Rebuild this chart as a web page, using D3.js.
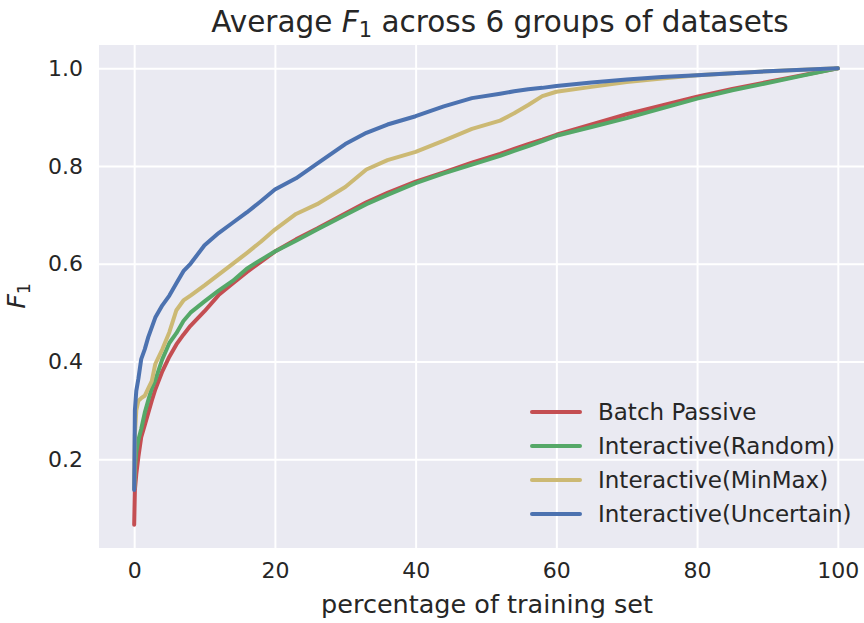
<!DOCTYPE html>
<html>
<head>
<meta charset="utf-8">
<script src="https://cdn.jsdelivr.net/npm/d3@7"></script>
<style>
  body { margin: 0; background: #fff; }
  svg { display: block; font-family: "DejaVu Sans", sans-serif; }
</style>
</head>
<body>
<svg></svg>
<script>
const pct = [0, 0.1, 0.3, 0.6, 1, 1.5, 2, 2.5, 3, 4, 5, 6, 7, 8, 10, 12, 14, 16, 18, 20,
  23, 26, 30, 33, 36, 40, 44, 48, 52, 54, 56, 58, 60, 65, 70, 75, 80, 85, 90, 95, 100];

const batchPassive = [0.066, 0.137, 0.17, 0.205, 0.245, 0.27, 0.295, 0.32, 0.343, 0.38, 0.41, 0.435,
  0.455, 0.473, 0.503, 0.536, 0.56, 0.583, 0.604, 0.625, 0.65, 0.672, 0.703, 0.726, 0.745, 0.768,
  0.787, 0.807, 0.825, 0.835, 0.845, 0.854, 0.864, 0.885, 0.906, 0.924, 0.942, 0.958, 0.972, 0.986, 1.0];

const interRandom = [0.14, 0.18, 0.215, 0.24, 0.262, 0.295, 0.321, 0.345, 0.362, 0.405, 0.438, 0.458,
  0.483, 0.50, 0.523, 0.545, 0.565, 0.59, 0.608, 0.625, 0.647, 0.67, 0.70, 0.722, 0.741, 0.765,
  0.785, 0.803, 0.821, 0.831, 0.841, 0.851, 0.862, 0.88, 0.898, 0.918, 0.938, 0.955, 0.97, 0.985, 1.0];

const interMinMax = [0.14, 0.25, 0.30, 0.32, 0.325, 0.33, 0.345, 0.36, 0.395, 0.425, 0.46, 0.505,
  0.525, 0.535, 0.556, 0.578, 0.60, 0.622, 0.645, 0.67, 0.702, 0.722, 0.757, 0.793, 0.812, 0.829,
  0.852, 0.876, 0.893, 0.908, 0.925, 0.943, 0.952, 0.962, 0.972, 0.979, 0.986, 0.99, 0.994, 0.997, 1.0];

const interUncertain = [0.137, 0.30, 0.34, 0.365, 0.405, 0.425, 0.45, 0.47, 0.49, 0.515, 0.535, 0.56,
  0.585, 0.60, 0.638, 0.663, 0.684, 0.705, 0.728, 0.752, 0.775, 0.805, 0.845, 0.868, 0.885, 0.902,
  0.922, 0.939, 0.948, 0.953, 0.957, 0.96, 0.964, 0.971, 0.977, 0.982, 0.986, 0.99, 0.994, 0.997, 1.0];

const seriesNames = ["Batch Passive", "Interactive(Random)", "Interactive(MinMax)", "Interactive(Uncertain)"];
const seriesValues = [batchPassive, interRandom, interMinMax, interUncertain];
const colors = ["#C44E52", "#55A868", "#CCB974", "#4C72B0"];

const xTicks = [0, 20, 40, 60, 80, 100];
const yTicks = [0.2, 0.4, 0.6, 0.8, 1.0];

const width = 864, height = 623;
const margin = {left: 99, top: 45, right: 873, bottom: 548};

const svg = d3.select("svg")
  .attr("width", width)
  .attr("height", height);

const x = d3.scaleLinear().domain([-5, 105]).range([margin.left, margin.right]);
const y = d3.scaleLinear().domain([0.0185, 1.0477]).range([margin.bottom, margin.top]);

// background panel
svg.append("rect")
  .attr("x", margin.left)
  .attr("y", margin.top)
  .attr("width", margin.right - margin.left)
  .attr("height", margin.bottom - margin.top)
  .attr("fill", "#EAEAF2");

svg.append("clipPath").attr("id", "plot")
  .append("rect")
  .attr("x", margin.left)
  .attr("y", margin.top)
  .attr("width", margin.right - margin.left)
  .attr("height", margin.bottom - margin.top);

// grid via axes
const xAxis = svg.append("g")
  .attr("transform", `translate(0,${margin.bottom})`)
  .call(d3.axisBottom(x).tickValues(xTicks).tickSize(-(margin.bottom - margin.top)).tickPadding(14));

const yAxis = svg.append("g")
  .attr("transform", `translate(${margin.left},0)`)
  .call(d3.axisLeft(y).tickValues(yTicks).tickFormat(d3.format(".1f"))
    .tickSize(-(margin.right - margin.left)).tickPadding(16));

[xAxis, yAxis].forEach(g => {
  g.select(".domain").remove();
  g.selectAll(".tick line").attr("stroke", "#fff").attr("stroke-width", 2);
  g.selectAll(".tick text")
    .attr("fill", "#262626")
    .style("font-size", "22px")
    .style("font-family", "DejaVu Sans");
});

// lines
const line = d3.line()
  .x((d, i) => x(pct[i]))
  .y(d => y(d));

const lines = svg.append("g").attr("clip-path", "url(#plot)");
seriesValues.forEach((vals, k) => {
  lines.append("path")
    .datum(vals)
    .attr("d", line)
    .attr("fill", "none")
    .attr("stroke", colors[k])
    .attr("stroke-width", 4)
    .attr("stroke-linejoin", "round")
    .attr("stroke-linecap", "round");
});

// legend
const legend = svg.append("g");
seriesNames.forEach((name, k) => {
  const ly = 412 + k * 34;
  legend.append("line")
    .attr("x1", 532).attr("x2", 580)
    .attr("y1", ly).attr("y2", ly)
    .attr("stroke", colors[k])
    .attr("stroke-width", 4)
    .attr("stroke-linecap", "round");
  legend.append("text")
    .attr("x", 598)
    .attr("y", ly + 8)
    .attr("fill", "#262626")
    .style("font-size", "23px")
    .text(name);
});

// x label
svg.append("text")
  .attr("x", 487)
  .attr("y", 613)
  .attr("text-anchor", "middle")
  .attr("fill", "#262626")
  .style("font-size", "25.5px")
  .text("percentage of training set");

// y label
const yl = svg.append("text")
  .attr("transform", "translate(25,296) rotate(-90)")
  .attr("text-anchor", "middle")
  .attr("fill", "#262626")
  .style("font-size", "25.5px");
yl.append("tspan").style("font-style", "italic").text("F");
yl.append("tspan").attr("dy", 5).style("font-size", "17px").text("1");

// title
const title = svg.append("text")
  .attr("x", 500)
  .attr("y", 32)
  .attr("text-anchor", "middle")
  .attr("fill", "#262626")
  .style("font-size", "29.5px");
title.append("tspan").text("Average ");
title.append("tspan").style("font-style", "italic").text("F");
title.append("tspan").attr("dy", 5).style("font-size", "21px").text("1");
title.append("tspan").attr("dy", -5).text(" across 6 groups of datasets");
</script>
</body>
</html>
